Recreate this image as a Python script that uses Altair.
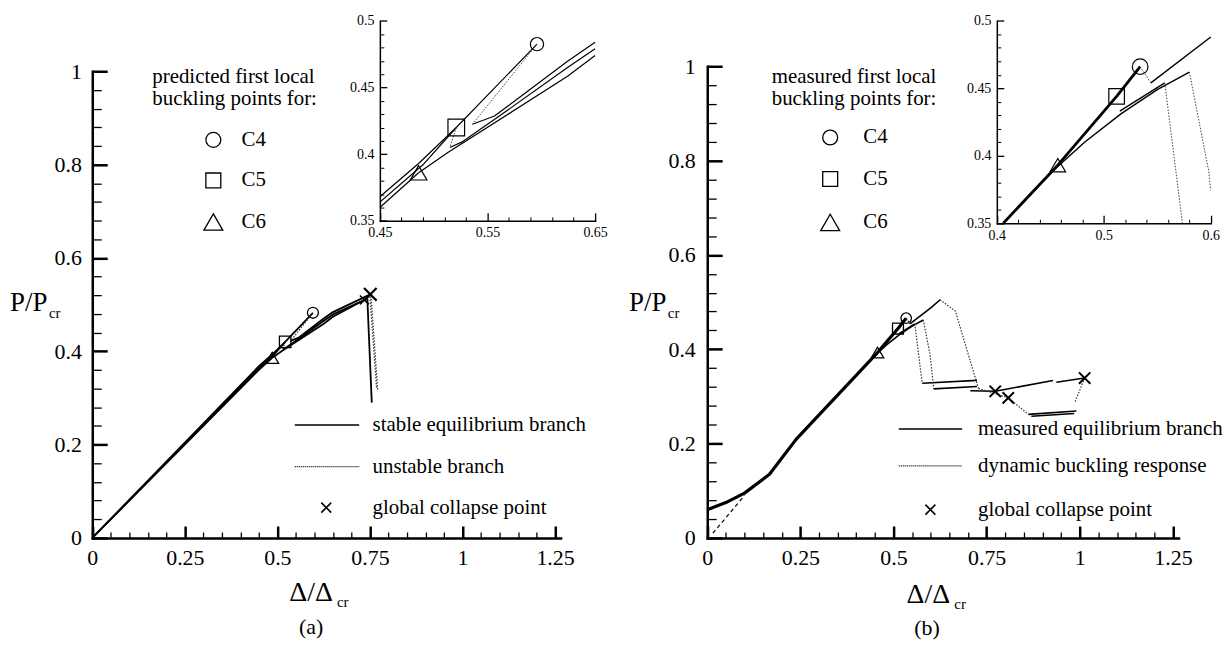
import altair as alt
import pandas as pd

FONT = "Liberation Serif"
W, H = 1215, 636

# ---------------- tick values ----------------
main_x_major = [0, 0.25, 0.5, 0.75, 1, 1.25]
main_x_minor = [round(0.05 * i, 2) for i in range(26) if i % 5]
main_y_major = [0, 0.2, 0.4, 0.6, 0.8, 1]
main_y_minor = [round(0.04 * i, 2) for i in range(26) if i % 5]
insetA_x_major = [0.45, 0.55, 0.65]
insetA_x_minor = [round(0.45 + 0.02 * i, 2) for i in range(11) if i % 5]
insetB_x_major = [0.4, 0.5, 0.6]
insetB_x_minor = [round(0.4 + 0.02 * i, 2) for i in range(11) if i % 5]
inset_y_major = [0.35, 0.4, 0.45, 0.5]
inset_y_minor = [round(0.35 + 0.01 * i, 2) for i in range(16) if i % 5]

# ---------------- panel (a): predicted ----------------
a_c4_path_x = [0, 0.45, 0.486, 0.521, 0.596]
a_c4_path_y = [0, 0.368, 0.393, 0.420, 0.4825]
a_c5_path_x = [0, 0.45, 0.490, 0.521]
a_c5_path_y = [0, 0.364, 0.392, 0.420]
a_c6_path_x = [0, 0.45, 0.486]
a_c6_path_y = [0, 0.360, 0.386]
a_c4_post_x = [0.536, 0.5565, 0.6244, 0.65, 0.751]
a_c4_post_y = [0.4224, 0.4286, 0.4696, 0.484, 0.522]
a_c5_post_x = [0.515, 0.526, 0.56, 0.6244, 0.65, 0.735]
a_c5_post_y = [0.405, 0.409, 0.428, 0.465, 0.479, 0.510]
a_c6_post_x = [0.486, 0.5132, 0.6244, 0.65, 0.742]
a_c6_post_y = [0.386, 0.4012, 0.4584, 0.474, 0.513]
a_drop_x = [0.743, 0.755]
a_drop_y = [0.513, 0.290]
a_unst1_x = [0.596, 0.536]
a_unst1_y = [0.4825, 0.4224]
a_unst2_x = [0.521, 0.515]
a_unst2_y = [0.420, 0.405]
a_unst3_x = [0.750, 0.768]
a_unst3_y = [0.517, 0.321]
a_unst4_x = [0.753, 0.771]
a_unst4_y = [0.519, 0.318]
a_buckle_x = [0.596, 0.521, 0.486]   # C4 circle, C5 square, C6 triangle
a_buckle_y = [0.4825, 0.420, 0.386]
a_cross_big = (0.751, 0.522)
a_cross_small = (0.735, 0.510)

# ---------------- panel (b): measured ----------------
b_main_x = [0, 0.05, 0.1, 0.167, 0.2385, 0.3, 0.35, 0.406, 0.457, 0.512, 0.534]
b_main_y = [0.06, 0.075, 0.095, 0.135, 0.209, 0.261, 0.303, 0.35, 0.393, 0.444, 0.466]
b_s2_x = [0.44, 0.45, 0.482, 0.516, 0.55, 0.58]
b_s2_y = [0.3787, 0.387, 0.410, 0.431, 0.449, 0.462]
b_s3_x = [0.515, 0.557]
b_s3_y = [0.433, 0.454]
b_s4_x = [0.544, 0.6, 0.625]
b_s4_y = [0.454, 0.488, 0.505]
b_h1_x = [0.577, 0.724]
b_h1_y = [0.328, 0.334]
b_h2_x = [0.608, 0.724]
b_h2_y = [0.316, 0.321]
b_h3_x = [0.706, 0.773, 0.928]
b_h3_y = [0.312, 0.311, 0.334]
b_h4_x = [0.937, 1.013]
b_h4_y = [0.330, 0.339]
b_h5_x = [0.862, 0.991]
b_h5_y = [0.262, 0.269]
b_h6_x = [0.870, 0.985]
b_h6_y = [0.258, 0.264]
b_dyn0_x = [0.534, 0.544]
b_dyn0_y = [0.466, 0.454]
b_dyn1_x = [0.557, 0.5735, 0.577]
b_dyn1_y = [0.454, 0.35, 0.328]
b_dyn2_x = [0.58, 0.598, 0.6, 0.608]
b_dyn2_y = [0.462, 0.389, 0.3744, 0.316]
b_dyn3_x = [0.625, 0.666, 0.728]
b_dyn3_y = [0.505, 0.481, 0.317]
b_dyn4_x = [0.728, 0.808, 0.862]
b_dyn4_y = [0.317, 0.297, 0.262]
b_dyn5_x = [1.013, 0.986]
b_dyn5_y = [0.339, 0.286]
b_dash_x = [0.015, 0.1]
b_dash_y = [0.01, 0.09]
b_buckle_x = [0.534, 0.512, 0.457]
b_buckle_y = [0.466, 0.444, 0.393]
b_cross_x = [0.773, 0.808, 1.013]
b_cross_y = [0.311, 0.297, 0.339]

CROSS = "M-1,-1L1,1M1,-1L-1,1"
ONE = pd.DataFrame({"k": [0]})


class Frame:
    def __init__(self, xdom, xrng, ydom, yrng, xvals, yvals, fs, xpad, ypad, dw):
        self.xdom, self.ydom = xdom, ydom
        self.xrng, self.yrng = xrng, yrng
        self.xs = alt.Scale(domain=xdom, range=xrng, nice=False, zero=False)
        self.ys = alt.Scale(domain=ydom, range=yrng, nice=False, zero=False)
        common = dict(format=".3~g", title=None, ticks=False, tickSize=0, grid=False,
                      domainColor="black", domainWidth=dw, domainCap="square",
                      labelFont=FONT, labelFontSize=fs, labelColor="black",
                      labelOverlap=False, labelFlush=False, labelBound=False)
        self.xa = alt.Axis(orient="bottom", offset=yrng[0] - H, values=xvals,
                           labelPadding=xpad, **common)
        self.ya = alt.Axis(orient="left", offset=-xrng[0], values=yvals,
                           labelPadding=ypad, **common)

    def X(self, f=None, d=None):
        if f is None:
            return alt.XDatum(d, type="quantitative", scale=self.xs, axis=self.xa)
        return alt.X(f, type="quantitative", scale=self.xs, axis=self.xa)

    def Y(self, f=None, d=None):
        if f is None:
            return alt.YDatum(d, type="quantitative", scale=self.ys, axis=self.ya)
        return alt.Y(f, type="quantitative", scale=self.ys, axis=self.ya)

    def tick_carriers(self, xmaj, xmin, ymaj, ymin, Lxm, Lxn, Lym, Lyn, wm, wn):
        """Inward ticks: label-less axes on copies of this frame's scales.
        A 'top' axis is moved down onto the x-axis line (ticks point up) and a
        'right' axis is moved left onto the y-axis line (ticks point right)."""
        out = []
        for xv, yv, Lx, Ly, w in ((xmaj, ymaj, Lxm, Lym, wm), (xmin, ymin, Lxn, Lyn, wn)):
            base = dict(labels=False, domain=False, grid=False, title=None, ticks=True,
                        tickWidth=w, tickColor="black", tickCap="butt", tickOpacity=1)
            ax = alt.Axis(orient="top", offset=-self.yrng[0], values=xv, tickSize=Lx, **base)
            ay = alt.Axis(orient="right", offset=self.xrng[0] - W, values=yv, tickSize=Ly, **base)
            xs = alt.Scale(domain=self.xdom, range=self.xrng, nice=False, zero=False)
            ys = alt.Scale(domain=self.ydom, range=self.yrng, nice=False, zero=False)
            out.append(alt.Chart(ONE).mark_point(opacity=0, size=1).encode(
                x=alt.XDatum(self.xdom[0], type="quantitative", scale=xs, axis=ax),
                y=alt.YDatum(self.ydom[0], type="quantitative", scale=ys, axis=ay)))
        return out


def seg_frame(segs, dom=None):
    rows = []
    for name, xs, ys in segs:
        for i, (x, y) in enumerate(zip(xs, ys)):
            if dom is not None:
                (x0, x1), (y0, y1) = dom
                if not (x0 - 1e-9 <= x <= x1 + 1e-9 and y0 - 1e-9 <= y <= y1 + 1e-9):
                    continue
            rows.append({"seg": name, "i": i, "x": x, "y": y})
    return pd.DataFrame(rows)


def lines(fr, segs, width, dash=None, inset=False, color="black"):
    df = seg_frame(segs, (fr.xdom, fr.ydom) if inset else None)
    kw = dict(strokeWidth=width, color=color, strokeCap="butt", strokeJoin="round")
    if dash:
        kw["strokeDash"] = dash
    return alt.Chart(df).mark_line(**kw).encode(
        x=fr.X("x"), y=fr.Y("y"), detail="seg:N", order="i:Q")


def pts(fr, xs, ys, shape, size, sw=1.3):
    df = pd.DataFrame({"x": xs, "y": ys})
    return alt.Chart(df).mark_point(shape=shape, size=size, strokeWidth=sw, filled=False,
                                    color="black", opacity=1).encode(x=fr.X("x"), y=fr.Y("y"))


def pt_at(fr, x, y, shape, size, sw=1.3):
    return alt.Chart(ONE).mark_point(shape=shape, size=size, strokeWidth=sw, filled=False,
                                     color="black", opacity=1).encode(x=fr.X(d=x), y=fr.Y(d=y))


def txt(fr, x, y, s, fs=21, align="left", dx=0, dy=0):
    return alt.Chart(ONE).mark_text(text=s, align=align, baseline="middle", font=FONT,
                                    fontSize=fs, color="black", dx=dx, dy=dy).encode(
        x=fr.X(d=x), y=fr.Y(d=y))


def rule(fr, x0, x1, y, width=1.5, dash=None):
    kw = dict(strokeWidth=width, color="black")
    if dash:
        kw["strokeDash"] = dash
    return alt.Chart(ONE).mark_rule(**kw).encode(
        x=fr.X(d=x0), x2=alt.X2Datum(x1), y=fr.Y(d=y))


fa = Frame([0, 1.265], [84.7, 555.3], [0, 1], [531, 62], main_x_major, main_y_major, 22, 10, 11, 2.5)
fai = Frame([0.45, 0.65], [373.7, 590], [0.35, 0.5], [212.3, 11.3], insetA_x_major, inset_y_major, 14, 5, 6, 1.5)
fb = Frame([0, 1.265], [702.7, 1176.3], [0, 1], [531, 57], main_x_major, main_y_major, 22, 10, 12, 2.5)
fbi = Frame([0.4, 0.6], [993.7, 1208.7], [0.35, 0.5], [214.7, 11.3], insetB_x_major, inset_y_major, 14, 5, 6, 1.5)

MAIN_TICKS = (main_x_major, main_x_minor, main_y_major, main_y_minor, 12, 6, 15, 9, 2.5, 1.3)
INSA_TICKS = (insetA_x_major, insetA_x_minor, inset_y_major, inset_y_minor, 8, 4, 7, 4, 1.3, 1.0)
INSB_TICKS = (insetB_x_major, insetB_x_minor, inset_y_major, inset_y_minor, 8, 4, 7, 4, 1.3, 1.0)

a_solid = [("c4", a_c4_path_x, a_c4_path_y), ("c5", a_c5_path_x, a_c5_path_y),
           ("c6", a_c6_path_x, a_c6_path_y), ("p4", a_c4_post_x, a_c4_post_y),
           ("p5", a_c5_post_x, a_c5_post_y), ("p6", a_c6_post_x, a_c6_post_y),
           ("dr", a_drop_x, a_drop_y)]
a_dotted = [("u1", a_unst1_x, a_unst1_y), ("u2", a_unst2_x, a_unst2_y),
            ("u3", a_unst3_x, a_unst3_y), ("u4", a_unst4_x, a_unst4_y)]

DOT = [1.5, 1.5]

a_main = [
    lines(fa, a_solid, 1.8),
    lines(fa, a_dotted, 1.2, dash=DOT, color="#333333"),
    pts(fa, a_buckle_x[:1], a_buckle_y[:1], "circle", 121),
    pts(fa, a_buckle_x[1:2], a_buckle_y[1:2], "square", 132),
    pts(fa, a_buckle_x[2:], a_buckle_y[2:], "triangle-up", 169),
    pt_at(fa, a_cross_big[0], a_cross_big[1], CROSS, 160, 2.2),
    pt_at(fa, a_cross_small[0], a_cross_small[1], CROSS, 81, 1.6),
    txt(fa, 0.162, 0.988, "predicted first local"),
    txt(fa, 0.162, 0.941, "buckling points for:"),
    pt_at(fa, 0.327, 0.853, "circle", 225), txt(fa, 0.403, 0.853, "C4"),
    pt_at(fa, 0.327, 0.766, "square", 225), txt(fa, 0.403, 0.766, "C5"),
    pt_at(fa, 0.327, 0.677, "triangle-up", 361), txt(fa, 0.403, 0.677, "C6"),
    rule(fa, 0.547, 0.721, 0.242, 1.5),
    txt(fa, 0.757, 0.242, "stable equilibrium branch"),
    rule(fa, 0.547, 0.721, 0.153, 1.2, dash=[1, 1]),
    txt(fa, 0.757, 0.153, "unstable branch"),
    pt_at(fa, 0.632, 0.065, CROSS, 100, 1.6),
    txt(fa, 0.757, 0.065, "global collapse point"),
    txt(fa, -0.222, 0.504, "P/P", fs=27),
    txt(fa, -0.222, 0.504, "cr", fs=15, dx=39, dy=10),
    txt(fa, 0.532, -0.117, "\u0394/\u0394", fs=28),
    txt(fa, 0.532, -0.117, "cr", fs=15, dx=48, dy=10),
    txt(fa, 0.591, -0.19, "(a)", fs=22, align="center"),
]
a_inset = [
    lines(fai, a_solid, 1.2, inset=True),
    lines(fai, a_dotted, 1.0, dash=DOT, inset=True, color="#444444"),
    pts(fai, a_buckle_x[:1], a_buckle_y[:1], "circle", 177, 1.2),
    pts(fai, a_buckle_x[1:2], a_buckle_y[1:2], "square", 279, 1.2),
    pts(fai, a_buckle_x[2:], a_buckle_y[2:], "triangle-up", 279, 1.2),
]

b_thick = [("m", b_main_x, b_main_y)]
b_solid = [("s2", b_s2_x, b_s2_y), ("s3", b_s3_x, b_s3_y), ("s4", b_s4_x, b_s4_y),
           ("h1", b_h1_x, b_h1_y), ("h2", b_h2_x, b_h2_y), ("h3", b_h3_x, b_h3_y),
           ("h4", b_h4_x, b_h4_y), ("h5", b_h5_x, b_h5_y), ("h6", b_h6_x, b_h6_y)]
b_dotted = [("d0", b_dyn0_x, b_dyn0_y), ("d1", b_dyn1_x, b_dyn1_y), ("d2", b_dyn2_x, b_dyn2_y),
            ("d3", b_dyn3_x, b_dyn3_y), ("d4", b_dyn4_x, b_dyn4_y), ("d5", b_dyn5_x, b_dyn5_y)]

b_main = [
    lines(fb, b_thick, 3.2),
    lines(fb, b_solid, 1.6),
    lines(fb, b_dotted, 1.2, dash=DOT, color="#333333"),
    lines(fb, [("dash", b_dash_x, b_dash_y)], 1.2, dash=[4, 3]),
    pts(fb, b_buckle_x[:1], b_buckle_y[:1], "circle", 110),
    pts(fb, b_buckle_x[1:2], b_buckle_y[1:2], "square", 121),
    pts(fb, b_buckle_x[2:], b_buckle_y[2:], "triangle-up", 156),
    pts(fb, b_cross_x, b_cross_y, CROSS, 130, 2.0),
    txt(fb, 0.173, 0.978, "measured first local"),
    txt(fb, 0.173, 0.931, "buckling points for:"),
    pt_at(fb, 0.330, 0.849, "circle", 225), txt(fb, 0.419, 0.849, "C4"),
    pt_at(fb, 0.330, 0.761, "square", 225), txt(fb, 0.419, 0.761, "C5"),
    pt_at(fb, 0.330, 0.669, "triangle-up", 361), txt(fb, 0.419, 0.669, "C6"),
    rule(fb, 0.514, 0.684, 0.231, 1.5),
    txt(fb, 0.727, 0.231, "measured equilibrium branch"),
    rule(fb, 0.514, 0.684, 0.153, 1.2, dash=[1, 1]),
    txt(fb, 0.727, 0.153, "dynamic buckling response"),
    pt_at(fb, 0.599, 0.060, CROSS, 100, 1.6),
    txt(fb, 0.727, 0.060, "global collapse point"),
    txt(fb, -0.21, 0.497, "P/P", fs=27),
    txt(fb, -0.21, 0.497, "cr", fs=15, dx=39, dy=10),
    txt(fb, 0.535, -0.12, "\u0394/\u0394", fs=28),
    txt(fb, 0.535, -0.12, "cr", fs=15, dx=48, dy=10),
    txt(fb, 0.59, -0.19, "(b)", fs=22, align="center"),
]
b_inset = [
    lines(fbi, b_thick, 2.8, inset=True),
    lines(fbi, b_solid, 1.4, inset=True),
    lines(fbi, b_dotted, 1.0, dash=DOT, inset=True, color="#444444"),
    pts(fbi, b_buckle_x[:1], b_buckle_y[:1], "circle", 246, 1.2),
    pts(fbi, b_buckle_x[1:2], b_buckle_y[1:2], "square", 246, 1.2),
    pts(fbi, b_buckle_x[2:], b_buckle_y[2:], "triangle-up", 246, 1.2),
]

panel_a = alt.layer(
    alt.layer(*a_main), *fa.tick_carriers(*MAIN_TICKS),
    alt.layer(*a_inset), *fai.tick_carriers(*INSA_TICKS),
).resolve_scale(x="independent", y="independent")
panel_b = alt.layer(
    alt.layer(*b_main), *fb.tick_carriers(*MAIN_TICKS),
    alt.layer(*b_inset), *fbi.tick_carriers(*INSB_TICKS),
).resolve_scale(x="independent", y="independent")

chart = (
    alt.layer(panel_a, panel_b)
    .resolve_scale(x="independent", y="independent")
    .properties(width=W, height=H, padding=0, background="white")
    .configure_view(stroke=None)
)

chart.save("out.html", embed_options={"renderer": "svg", "actions": False})
